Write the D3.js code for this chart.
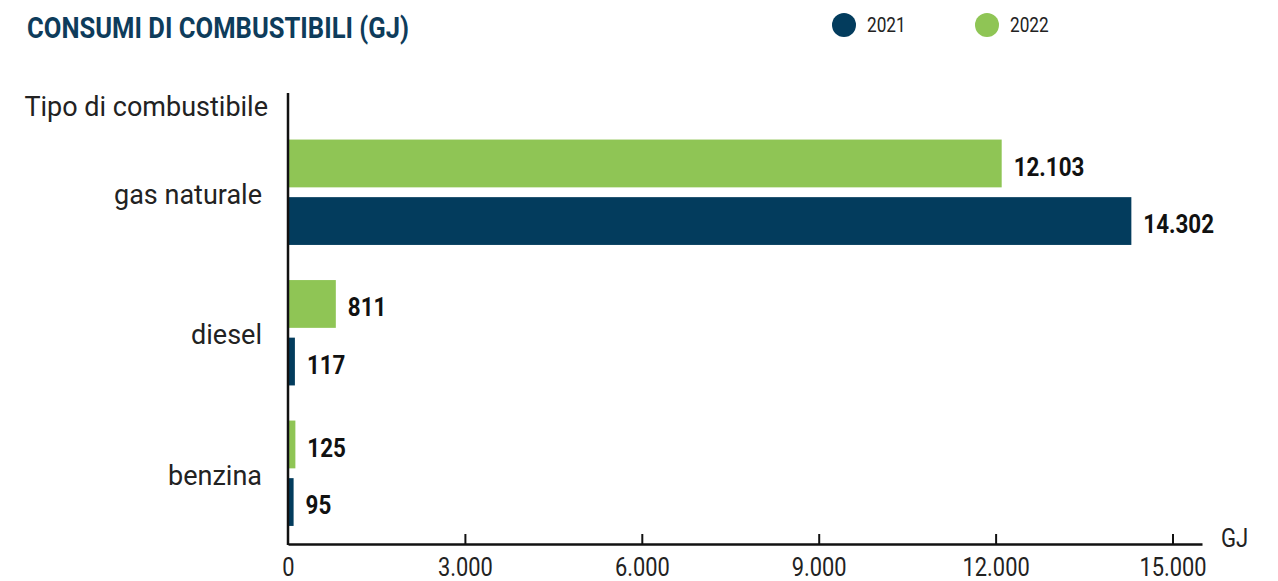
<!DOCTYPE html>
<html>
<head>
<meta charset="utf-8">
<script src="https://cdn.jsdelivr.net/npm/d3@7"></script>
<style>
  body { margin: 0; background: #fff; }
  svg { display: block; font-family: Roboto, sans-serif; }
</style>
</head>
<body>
<svg width="1278" height="581"></svg>
<script>
// data
var categories = ["gas naturale", "diesel", "benzina"];
var years = ["2022", "2021"];           // top bar first
var legendYears = ["2021", "2022"];
var values2021 = [14302, 117, 95];
var values2022 = [12103, 811, 125];
var tickValues = [0, 3000, 6000, 9000, 12000, 15000];

var colors = { "2021": "#033c5d", "2022": "#8fc555" };

var it = d3.formatLocale({ decimal: ",", thousands: ".", grouping: [3], currency: ["€", ""] });
var fmt = it.format(",d");

// squeeze text horizontally (the original uses a condensed face)
function condense(sel, k) {
  sel.each(function() {
    var w = this.getComputedTextLength();
    d3.select(this).attr("textLength", w * k).attr("lengthAdjust", "spacingAndGlyphs");
  });
}

function main() {
  var svg = d3.select("svg");

  var rows = categories.map(function(c, i) {
    return { cat: c, "2021": values2021[i], "2022": values2022[i] };
  });

  var x = d3.scaleLinear().domain([0, 15500]).range([288, 1202]);
  var y0 = d3.scaleBand().domain(categories).range([122, 543.5])
      .paddingInner(0.25).paddingOuter(0.125);
  var y1 = d3.scaleBand().domain(years).range([0, y0.bandwidth()]).paddingInner(0.17);

  // title
  svg.append("text")
    .attr("x", 27).attr("y", 38)
    .attr("textLength", 382).attr("lengthAdjust", "spacingAndGlyphs")
    .style("font-size", "29px")
    .style("font-weight", "bold")
    .style("fill", "#0e3c5b")
    .text("CONSUMI DI COMBUSTIBILI (GJ)");

  // legend
  var leg = svg.append("g").selectAll("g")
    .data(legendYears)
    .enter().append("g")
    .attr("transform", function(d, i) { return "translate(" + (844 + i * 143) + ",25)"; });
  leg.append("circle").attr("r", 12).attr("fill", function(d) { return colors[d]; });
  leg.append("text")
    .attr("x", 23).attr("y", 7)
    .style("font-size", "21px")
    .style("fill", "#222")
    .text(function(d) { return d; })
    .call(condense, 0.82);

  // bars
  var g = svg.append("g").selectAll("g")
    .data(rows)
    .enter().append("g")
    .attr("transform", function(d) { return "translate(0," + y0(d.cat) + ")"; });

  g.selectAll("rect")
    .data(function(d) { return years.map(function(k) { return { key: k, value: d[k] }; }); })
    .enter().append("rect")
    .attr("x", x(0))
    .attr("y", function(d) { return y1(d.key); })
    .attr("width", function(d) { return x(d.value) - x(0); })
    .attr("height", y1.bandwidth())
    .attr("fill", function(d) { return colors[d.key]; });

  g.selectAll(".val")
    .data(function(d) { return years.map(function(k) { return { key: k, value: d[k] }; }); })
    .enter().append("text")
    .attr("class", "val")
    .attr("x", function(d) { return x(d.value) + 12; })
    .attr("y", function(d) { return y1(d.key) + y1.bandwidth() / 2 + 3; })
    .attr("dy", ".35em")
    .style("font-size", "26px")
    .style("font-weight", "bold")
    .style("fill", "#111")
    .text(function(d) { return fmt(d.value); })
    .call(condense, 0.86);

  // category labels
  svg.append("g").selectAll("text")
    .data(categories)
    .enter().append("text")
    .attr("x", 262)
    .attr("y", function(d) { return y0(d) + y0.bandwidth() / 2 + 2; })
    .attr("dy", ".35em")
    .attr("text-anchor", "end")
    .style("font-size", "27px")
    .style("fill", "#222")
    .text(function(d) { return d; });

  svg.append("text")
    .attr("x", 268).attr("y", 116)
    .attr("text-anchor", "end")
    .style("font-size", "27px")
    .style("fill", "#222")
    .text("Tipo di combustibile");

  // axes
  var xAxis = svg.append("g")
    .attr("transform", "translate(0,544)")
    .call(d3.axisBottom(x).tickValues(tickValues).tickSize(-10).tickSizeOuter(0)
      .tickFormat(function(d) { return fmt(d); }));
  xAxis.select(".domain").attr("stroke", "#111").attr("stroke-width", 2.5);
  xAxis.selectAll(".tick line").attr("stroke", "#111").attr("stroke-width", 2);
  xAxis.selectAll(".tick text")
    .attr("y", 14)
    .attr("dy", ".71em")
    .style("font-family", "Roboto, sans-serif")
    .style("font-size", "26px")
    .style("fill", "#222")
    .call(condense, 0.84);
  xAxis.selectAll(".tick").filter(function(d) { return d === 0; }).select("line").remove();

  svg.append("line")
    .attr("x1", x(0)).attr("x2", x(0))
    .attr("y1", 93).attr("y2", 545)
    .attr("stroke", "#111").attr("stroke-width", 2.5);

  svg.append("text")
    .attr("x", 1221).attr("y", 547)
    .style("font-size", "26px")
    .style("fill", "#222")
    .text("GJ")
    .call(condense, 0.85);
}
main();
</script>
</body>
</html>
